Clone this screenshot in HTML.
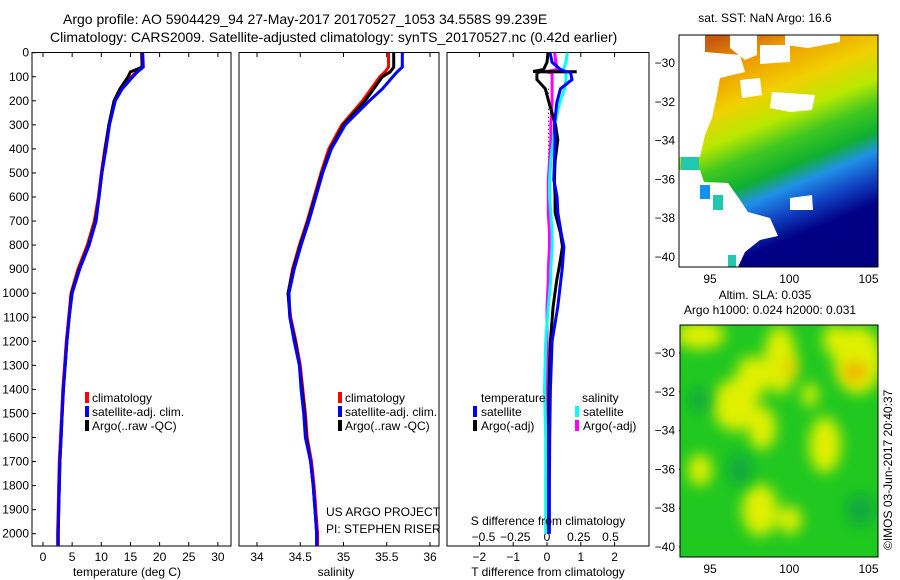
<!DOCTYPE html>
<html><head><meta charset="utf-8"><style>
html,body{margin:0;padding:0;background:#fff;}
svg{display:block;font-family:"Liberation Sans",sans-serif;}
text{font-size:12px;fill:#000;}
</style></head><body>
<svg id="fig" width="900" height="580" viewBox="0 0 900 580" xmlns="http://www.w3.org/2000/svg">
<defs>
<linearGradient id="sstg" x1="0.25" y1="0" x2="0.6" y2="1">
<stop offset="0" stop-color="#c85a10"/><stop offset="0.12" stop-color="#ee9a00"/><stop offset="0.28" stop-color="#f0d000"/>
<stop offset="0.4" stop-color="#b8e800"/><stop offset="0.5" stop-color="#40c820"/><stop offset="0.6" stop-color="#10b030"/>
<stop offset="0.68" stop-color="#2090e8"/><stop offset="0.78" stop-color="#1040c0"/><stop offset="0.88" stop-color="#000085"/><stop offset="1" stop-color="#000080"/>
</linearGradient>
<filter id="blur" x="-50%" y="-50%" width="200%" height="200%"><feGaussianBlur stdDeviation="7"/></filter>
<clipPath id="c2"><rect x="680" y="325" width="198" height="232"/></clipPath>
</defs>
<text x="63" y="24" style="font-size:14px">Argo profile: AO 5904429_94 27-May-2017 20170527_1053 34.558S 99.239E</text>
<text x="50" y="42" style="font-size:14px">Climatology: CARS2009. Satellite-adjusted climatology: synTS_20170527.nc (0.42d earlier)</text>
<g id="axes"></g>
<g id="marks"></g>
<!-- SST map -->
<g>
<rect x="679" y="35" width="199" height="232" fill="url(#sstg)"/>
<polygon fill="#fff" points="679,35 705,35 705,52 740,55 745,72 720,78 716,100 712,118 705,135 700,157 679,157"/>
<polygon fill="#fff" points="679,170 700,170 704,182 728,183 740,200 748,212 770,218 778,236 760,240 745,252 738,267 679,267"/>
<polygon fill="#fff" points="730,35 757,35 757,55 745,60 730,48"/>
<polygon fill="#fff" points="760,45 790,45 790,62 760,64"/>
<polygon fill="#fff" points="772,92 815,95 812,110 790,112 770,108"/>
<polygon fill="#fff" points="740,80 760,78 762,95 742,98"/>
<polygon fill="#fff" points="785,35 840,35 840,42 808,48 785,45"/>
<polygon fill="#fff" points="790,198 812,195 813,210 790,210"/>
<rect x="681" y="157" width="18" height="13" fill="#20c8b0"/>
<rect x="700" y="185" width="10" height="14" fill="#1090f0"/>
<rect x="713" y="195" width="10" height="15" fill="#20c8b0"/>
<rect x="728" y="255" width="8" height="12" fill="#20c8b0"/>
<rect x="679" y="35" width="199" height="232" fill="none" stroke="#000"/>
</g>
<text x="765" y="22" text-anchor="middle">sat. SST: NaN Argo: 16.6</text>
<!-- SLA map -->
<g clip-path="url(#c2)">
<rect x="680" y="325" width="198" height="232" fill="#20c820"/>
<g filter="url(#blur)" fill="#e0f000">
<ellipse cx="700" cy="335" rx="25" ry="14"/>
<ellipse cx="780" cy="360" rx="16" ry="34"/>
<ellipse cx="752" cy="378" rx="16" ry="22"/>
<ellipse cx="735" cy="405" rx="22" ry="26"/>
<ellipse cx="762" cy="428" rx="14" ry="22"/>
<ellipse cx="825" cy="445" rx="16" ry="28"/>
<ellipse cx="760" cy="510" rx="18" ry="26"/>
<ellipse cx="790" cy="520" rx="12" ry="14"/>
<ellipse cx="858" cy="360" rx="24" ry="34"/>
<ellipse cx="835" cy="340" rx="12" ry="16"/>
<ellipse cx="700" cy="470" rx="12" ry="16"/>
<ellipse cx="810" cy="395" rx="8" ry="12"/>
</g>
<g filter="url(#blur)"><ellipse cx="855" cy="372" rx="12" ry="10" fill="#f0b000"/><ellipse cx="790" cy="368" rx="6" ry="10" fill="#f0c800"/>
<ellipse cx="700" cy="400" rx="10" ry="12" fill="#10a840"/><ellipse cx="740" cy="470" rx="12" ry="16" fill="#10a840"/><ellipse cx="860" cy="510" rx="14" ry="16" fill="#10a840"/></g>
</g>
<rect x="680" y="325" width="198" height="232" fill="none" stroke="#000"/>
<text x="765" y="299" text-anchor="middle">Altim. SLA: 0.035</text>
<text x="770" y="314" text-anchor="middle">Argo h1000: 0.024 h2000: 0.031</text>
<text transform="translate(892,550) rotate(-90)">©IMOS 03-Jun-2017 20:40:37</text>
<!-- legends -->
<g>
<rect x="85" y="392" width="4" height="11" fill="#f00"/><text x="92" y="402">climatology</text>
<rect x="85" y="406" width="4" height="11" fill="#00f"/><text x="92" y="416">satellite-adj. clim.</text>
<rect x="85" y="420" width="4" height="11" fill="#000"/><text x="92" y="430">Argo(..raw -QC)</text>
</g>
<g>
<rect x="338" y="392" width="4" height="11" fill="#f00"/><text x="345" y="402">climatology</text>
<rect x="338" y="406" width="4" height="11" fill="#00f"/><text x="345" y="416">satellite-adj. clim.</text>
<rect x="338" y="420" width="4" height="11" fill="#000"/><text x="345" y="430">Argo(..raw -QC)</text>
</g>
<text x="326" y="516">US ARGO PROJECT</text>
<text x="326" y="533">PI: STEPHEN RISER</text>
<g>
<text x="481" y="402">temperature</text><text x="582" y="402">salinity</text>
<rect x="473" y="406" width="4" height="11" fill="#00f"/><text x="481" y="416">satellite</text>
<rect x="473" y="420" width="4" height="11" fill="#000"/><text x="481" y="430">Argo(-adj)</text>
<rect x="575" y="406" width="4" height="11" fill="#0ff"/><text x="583" y="416">satellite</text>
<rect x="575" y="420" width="4" height="11" fill="#f0f"/><text x="583" y="430">Argo(-adj)</text>
</g>
<text x="548" y="525" text-anchor="middle">S difference from climatology</text>
<text x="127" y="576" text-anchor="middle">temperature (deg C)</text>
<text x="336" y="576" text-anchor="middle">salinity</text>
<text x="548" y="576" text-anchor="middle">T difference from climatology</text>
</svg>
<script>
const depths=[0,60,80,100,150,200,300,400,500,600,700,800,900,1000,1100,1200,1300,1400,1500,1600,1700,1800,1900,2000,2050];
const tClim=[16.9,17.0,16.0,15.2,13.4,12.2,11.3,10.6,10.0,9.5,8.8,7.6,6.0,4.8,4.4,4.0,3.7,3.4,3.2,3.0,2.8,2.7,2.6,2.5,2.5];
const tSat=[17.1,17.2,16.2,15.4,13.6,12.4,11.4,10.8,10.1,9.6,9.1,7.9,6.3,5.0,4.5,4.1,3.8,3.5,3.3,3.1,2.9,2.8,2.7,2.6,2.6];
const tArgo=[17.0,17.0,15.0,14.6,13.2,12.2,11.3,10.7,10.1,9.6,9.0,7.8,6.2,4.9,4.5,4.1,3.8,3.5,3.3,3.1,2.9,2.8,2.7,2.6,2.6];
const sClim=[35.52,35.52,35.48,35.42,35.32,35.22,34.98,34.83,34.74,34.66,34.58,34.49,34.41,34.36,34.39,34.45,34.50,34.53,34.56,34.58,34.63,34.66,34.68,34.70,34.70];
const sSat=[35.68,35.68,35.62,35.57,35.45,35.30,35.02,34.86,34.76,34.68,34.60,34.51,34.43,34.37,34.38,34.43,34.49,34.51,34.54,34.56,34.62,34.65,34.67,34.69,34.69];
const sArgo=[35.58,35.58,35.54,35.45,35.35,35.25,35.00,34.85,34.75,34.67,34.59,34.50,34.42,34.36,34.38,34.44,34.49,34.52,34.55,34.57,34.62,34.65,34.67,34.69,34.69];
const dDepths=[0,40,70,78,79,80,85,112,150,207,300,362,450,528,600,665,750,807,900,944,1056,1200,1400,1600,1800,2000];
const tSatD=[0.09,0.15,0.4,0.55,0.6,0.65,0.7,0.74,0.4,0.29,0.22,0.24,0.22,0.2,0.3,0.32,0.42,0.5,0.45,0.41,0.32,0.15,0.1,0.08,0.07,0.07];
const tArgoD=[0.03,0.0,-0.1,-0.41,0.88,-0.2,-0.3,-0.3,-0.05,0.06,0.25,0.32,0.24,0.22,0.24,0.24,0.4,0.46,0.35,0.29,0.18,0.1,0.06,0.05,0.05,0.05];
const sSatD=[0.16,0.15,0.13,0.13,0.14,0.14,0.15,0.15,0.14,0.1,0.06,0.05,0.03,0.02,0.02,0.03,0.04,0.04,0.03,0.03,0.01,-0.01,-0.02,-0.01,-0.01,-0.01];
const sArgoD=[0.06,0.07,0.08,0.0,-0.01,0.0,0.04,0.04,0.04,0.04,0.03,0.03,0.02,0.01,0.01,0.01,0.02,0.02,0.01,0.01,0.0,0.0,0.0,0.0,0.0,0.0];
const depthTicks=[0,100,200,300,400,500,600,700,800,900,1000,1100,1200,1300,1400,1500,1600,1700,1800,1900,2000];
const tTicks=[0,5,10,15,20,25,30];
const sTicks=[34,34.5,35,35.5,36];
const tdTicks=[-2,-1,0,1,2];
const sdTicks=[-0.5,-0.25,0,0.25,0.5];
const lonTicks=[95,100,105];
const latTicks=[-30,-32,-34,-36,-38,-40];

const NS='http://www.w3.org/2000/svg';
const axes=document.getElementById('axes'), marks=document.getElementById('marks');
const Y=d=>52.7+d*0.2405;
const xT=v=>43+v*5.83, xS=v=>257+(v-34)*86.5, xTD=v=>547+v*33.8, xSD=v=>547+v*127;
function mk(tag,attrs,parent){const e=document.createElementNS(NS,tag);for(const k in attrs)e.setAttribute(k,attrs[k]);parent.appendChild(e);return e;}
const panels=[[32,231],[239,439],[447,649]];
panels.forEach((p,i)=>{
  const r=mk('rect',{x:p[0],y:52.5,width:p[1]-p[0],height:493.5,fill:'none',stroke:'#000'},axes);
  
  
});
depthTicks.forEach(d=>{
  mk('line',{x1:32,x2:36,y1:Y(d),y2:Y(d),stroke:'#000'},axes);
  const t=mk('text',{x:29,y:Y(d)+4,'text-anchor':'end'},axes);t.textContent=d;
  
  
});
function xticks(ticks,fx,lblY,both){ticks.forEach(v=>{
  const x=fx(v);
  mk('line',{x1:x,x2:x,y1:546,y2:542,stroke:'#000'},axes);
  if(both)mk('line',{x1:x,x2:x,y1:53,y2:57,stroke:'#000'},axes);
  const t=mk('text',{x:x,y:lblY,'text-anchor':'middle'},axes);t.textContent=String(v).replace('-','\u2212');
  
  
});}
xticks(tTicks,xT,561,true);xticks(sTicks,xS,561,true);xticks(tdTicks,xTD,561,true);
sdTicks.forEach(v=>{const t=mk('text',{x:xSD(v),y:541,'text-anchor':'middle'},axes);t.textContent=String(v).replace('-','\u2212');
  
  });
function mapTicks(top,bot,yoff){
  lonTicks.forEach(v=>{const x=710+(v-95)*15.85;mk('line',{x1:x,x2:x,y1:bot,y2:bot-3,stroke:'#000'},axes);mk('line',{x1:x,x2:x,y1:top,y2:top+3,stroke:'#000'},axes);
    const t=mk('text',{x:x,y:bot+16,'text-anchor':'middle'},axes);t.textContent=v;
    
    });
  latTicks.forEach(v=>{const y=yoff+(-30-v)*19.4;mk('line',{x1:679,x2:682,y1:y,y2:y,stroke:'#000'},axes);mk('line',{x1:878,x2:875,y1:y,y2:y,stroke:'#000'},axes);
    const t=mk('text',{x:675,y:y+4,'text-anchor':'end'},axes);t.textContent=String(v).replace('-','\u2212');
    
    });
}
mapTicks(35,267,63);mapTicks(325,557,353);
const z=mk('line',{x1:548.5,x2:548.5,y1:Y(150),y2:Y(900),stroke:'#000','stroke-dasharray':'1,3'},marks);


function line(vals,dep,fx,color,w,name){
  const pts=vals.map((v,i)=>fx(v).toFixed(1)+','+Y(dep[i]).toFixed(1)).join(' ');
  const p=mk('polyline',{points:pts,fill:'none',stroke:color,'stroke-width':w,'stroke-linejoin':'miter'},marks);
  
  
}
line(tClim,depths,xT,'#f00',3,'temperature-climatology-line');
line(tArgo,depths,xT,'#000',3,'temperature-argo-line');
line(tSat,depths,xT,'#00f',3,'temperature-satellite-line');
line(sClim,depths,xS,'#f00',3,'salinity-climatology-line');
line(sArgo,depths,xS,'#000',3,'salinity-argo-line');
line(sSat,depths,xS,'#00f',3,'salinity-satellite-line');
line(sArgoD,dDepths,xSD,'#f0f',3,'salinity-argo-diff-line');
line(sSatD,dDepths,xSD,'#0ff',3,'salinity-satellite-diff-line');
line(tArgoD,dDepths,xTD,'#000',3,'temperature-argo-diff-line');
line(tSatD,dDepths,xTD,'#00f',3,'temperature-satellite-diff-line');
</script>
</body></html>
